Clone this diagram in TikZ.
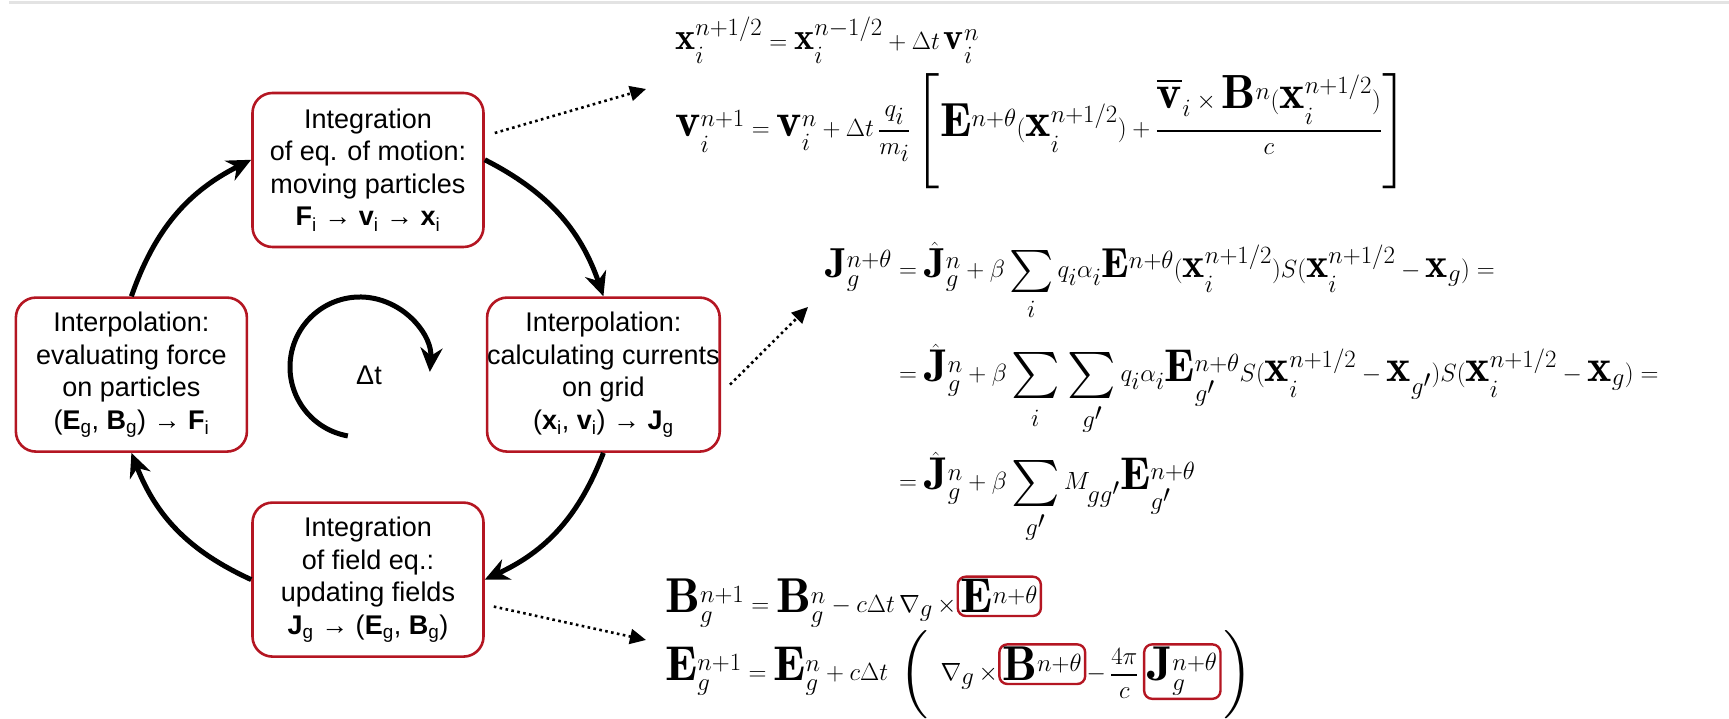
\documentclass[tikz,border=0pt]{standalone}
\usepackage{amsmath}
\DeclareFontFamily{OMX}{cmex}{}
\DeclareFontShape{OMX}{cmex}{m}{n}{<-> cmex10}{}
\DeclareMathSizes{46}{46}{35}{25}
\DeclareMathSizes{48}{48}{36.5}{26}
\DeclareMathSizes{49}{49}{37}{27}
\usepackage{fontspec}
\newfontfamily\boxfont{Liberation Sans}
\usetikzlibrary{arrows.meta,positioning}
\definecolor{boxred}{RGB}{180,22,34}
\newcommand{\vb}[2]{\textbf{#1}\textsubscript{#2}}

\begin{document}
\begin{tikzpicture}[x=1pt, y=1pt, sharp corners,
    stage/.style={draw=boxred, line width=2.6pt, rounded corners=20pt, minimum width=231pt, minimum height=154pt,
      inner sep=0pt, align=center, font=\boxfont\fontsize{27}{32.5}\selectfont},
    eq/.style={inner sep=0pt, font=\fontsize{#1}{48}\selectfont}, eq/.default=40,
    hl/.style={eq=49, draw=boxred, line width=2.4pt, rounded corners=8pt, inner sep=3pt},
    cyc/.style={line width=5pt, -{Stealth[length=24pt,width=22pt]}},
    ptr/.style={line width=2.6pt, dash pattern=on 2.6pt off 3.4pt, -{Triangle[length=16pt,width=15pt]}}]
  \useasboundingbox (0,0) rectangle (1729,719);
  \draw[gray!22, line width=3pt] (9,716) -- (1729,716);

  \node[stage] (mov) at (368,549) {Integration\\of eq. of motion:\\moving particles\\\vb{F}{i} → \vb{v}{i} → \vb{x}{i}};
  \node[stage, below left=48pt and 3pt of mov] (frc) {Interpolation:\\evaluating force\\on particles\\(\vb{E}{g}, \vb{B}{g}) → \vb{F}{i}};
  \node[stage, below right=48pt and 1pt of mov] (cur) {Interpolation:\\calculating currents\\on grid\\(\vb{x}{i}, \vb{v}{i}) → \vb{J}{g}};
  \node[stage, below=253pt of mov] (fld) {Integration\\of field eq.:\\updating fields\\\vb{J}{g} → (\vb{E}{g}, \vb{B}{g})};

  \draw[cyc] (frc.north) to[bend left=22] (mov.175);
  \draw[cyc] (mov.5) to[bend left=22] (cur.north);
  \draw[cyc] (cur.south) to[bend left=22] (fld.east);
  \draw[cyc] (fld.west) to[bend left=22] (frc.south);

  \node[font=\boxfont\fontsize{27}{30}\selectfont] (dt) at (369,344) {Δt};
  \coordinate (dtc) at (360,352);
  \draw[cyc] ([shift={(260:70pt)}]dtc) arc[start angle=260, end angle=-4, radius=70pt];

  \node[eq=38, anchor=base west] (xup) at (675,669) {$\mathbf{x}_i^{n+1/2} = \mathbf{x}_i^{n-1/2} + \Delta t\,\mathbf{v}_i^n$};
  \node[eq=48, anchor=base west] (vup) at (675,582) {$\displaystyle \mathbf{v}_i^{n+1} = \mathbf{v}_i^n + \Delta t\,\frac{q_i}{m_i}\left[\rule[-36pt]{0pt}{94pt}\mathbf{E}^{n+\theta}(\mathbf{x}_i^{n+1/2}) + \frac{\overline{\mathbf{v}}_i\times\mathbf{B}^n(\mathbf{x}_i^{n+1/2})}{c}\right]$};

  \node[eq=42, anchor=base west] (jl) at (825,441) {$\mathbf{J}_g^{n+\theta}$};
  \node[eq=42, anchor=base west] (j1) at (jl.base east) {${}= \hat{\mathbf{J}}_g^n + \beta\sum\limits_i q_i\alpha_i\mathbf{E}^{n+\theta}(\mathbf{x}_i^{n+1/2})S(\mathbf{x}_i^{n+1/2}-\mathbf{x}_g) ={}$};
  \node[eq=46, anchor=base west] (j2) at ([yshift=-104pt]j1.base west) {${}= \hat{\mathbf{J}}_g^n + \beta\sum\limits_i\,\sum\limits_{g'} q_i\alpha_i\mathbf{E}_{g'}^{n+\theta}S(\mathbf{x}_i^{n+1/2}-\mathbf{x}_{g'})S(\mathbf{x}_i^{n+1/2}-\mathbf{x}_g) ={}$};
  \node[eq=46, anchor=base west] (j3) at ([yshift=-108pt]j2.base west) {${}= \hat{\mathbf{J}}_g^n + \beta\sum\limits_{g'} M_{gg'}\mathbf{E}_{g'}^{n+\theta}$};

  \node[eq=49, anchor=base west] (b1) at (665,106) {$\mathbf{B}_g^{n+1} = \mathbf{B}_g^n - c\Delta t\,\nabla_g\,\times$};
  \node[hl, anchor=base west] (bE) at (b1.base east) {$\mathbf{E}^{n+\theta}$};

  \node[eq=49, anchor=base west] (e1) at (665,38) {$\mathbf{E}_g^{n+1} = \mathbf{E}_g^n + c\Delta t\;\left(\rule[-40pt]{0pt}{92pt}\right.\;\nabla_g\,\times$};
  \node[hl, anchor=base west] (eB) at (e1.base east) {$\mathbf{B}^{n+\theta}$};
  \node[eq=49, anchor=base west] (e2) at (eB.base east) {$\displaystyle -\,\frac{4\pi}{c}\,$};
  \node[hl, anchor=base west] (eJ) at (e2.base east) {$\mathbf{J}_g^{n+\theta}$};
  \node[eq=49, anchor=base west] (e3) at (eJ.base east) {$\left.\rule[-40pt]{0pt}{92pt}\right)$};

  \coordinate (p1) at (646,630);
  \coordinate (p2) at (808,412);
  \coordinate (p3) at (646,79);
  \draw[ptr] ([shift={(10pt,37pt)}]mov.east) -- (p1);
  \draw[ptr] ([shift={(9pt,-10pt)}]cur.east) -- (p2);
  \draw[ptr] ([shift={(9pt,-27pt)}]fld.east) -- (p3);
\end{tikzpicture}
\end{document}
